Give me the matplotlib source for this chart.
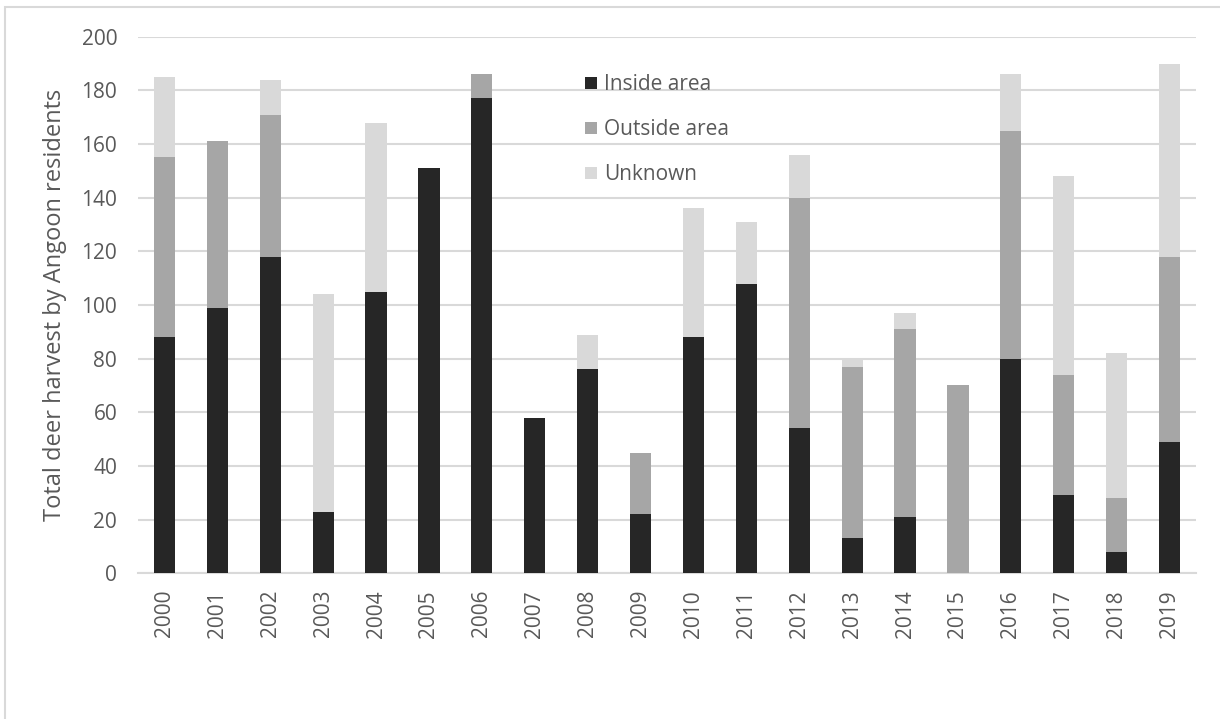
import numpy as np
import matplotlib.pyplot as plt
from matplotlib.patches import Rectangle

# ─── Data ─────────────────────────────────────────────────────────────────────
years   = [str(y) for y in range(2000, 2020)]
inside  = [88, 99, 118, 23, 105, 151, 177, 58, 76, 22,
           88, 108, 54, 13, 21, 0, 80, 29, 8, 49]
outside = [67, 62, 53, 0, 0, 0, 9, 0, 0, 23,
           0, 0, 86, 64, 70, 70, 85, 45, 20, 69]
unknown = [30, 0, 13, 81, 63, 0, 0, 0, 13, 0,
           48, 23, 16, 3, 6, 0, 21, 74, 54, 72]

SERIES = ["Inside area", "Outside area", "Unknown"]
COLORS = ["#262626", "#a6a6a6", "#d9d9d9"]
TXT    = "#595959"

plt.rcParams["font.family"] = ["Open Sans", "DejaVu Sans"]

fig = plt.figure(figsize=(12.2, 7.19), dpi=100)
ax  = fig.add_axes([138 / 1220, 1 - 573.3 / 719,
                    (1196 - 138) / 1220, (573.3 - 36.7) / 719])

# chart-area frame (only left and top edges visible in the crop)
fig.patches.append(Rectangle((5 / 1220, -0.1), 1.2, 1 - 7 / 719 + 0.1,
                             transform=fig.transFigure, fill=False,
                             edgecolor="#d9d9d9", linewidth=1.5))

x = np.arange(len(years))
w = 0.4
b1 = np.array(inside)
b2 = b1 + np.array(outside)
ax.bar(x, inside, w, color=COLORS[0], label=SERIES[0], zorder=3)
ax.bar(x, outside, w, bottom=b1, color=COLORS[1], label=SERIES[1], zorder=3)
ax.bar(x, unknown, w, bottom=b2, color=COLORS[2], label=SERIES[2], zorder=3)

ax.set_xlim(-0.5, len(years) - 0.5)
ax.set_ylim(0, 200)
ax.set_yticks(range(0, 201, 20))
ax.set_xticks(x)
ax.set_xticklabels(years, rotation=90)
ax.tick_params(axis="both", length=0, labelsize=15, colors=TXT)
ax.tick_params(axis="y", pad=15)
ax.tick_params(axis="x", pad=12)
ax.grid(axis="y", color="#d9d9d9", linewidth=1.5, zorder=0)
for s in ["top", "right", "left"]:
    ax.spines[s].set_visible(False)
ax.spines["bottom"].set_color("#d9d9d9")
ax.spines["bottom"].set_linewidth(1.5)

ax.set_ylabel("Total deer harvest by Angoon residents",
              fontsize=17, color=TXT, labelpad=10)

leg = ax.legend(loc="upper left", bbox_to_anchor=(0.405, 0.965),
                frameon=False, fontsize=15, labelcolor=TXT,
                handlelength=0.55, handleheight=0.55, handletextpad=0.35,
                labelspacing=1.15)

plt.savefig("out.png", dpi=100)
